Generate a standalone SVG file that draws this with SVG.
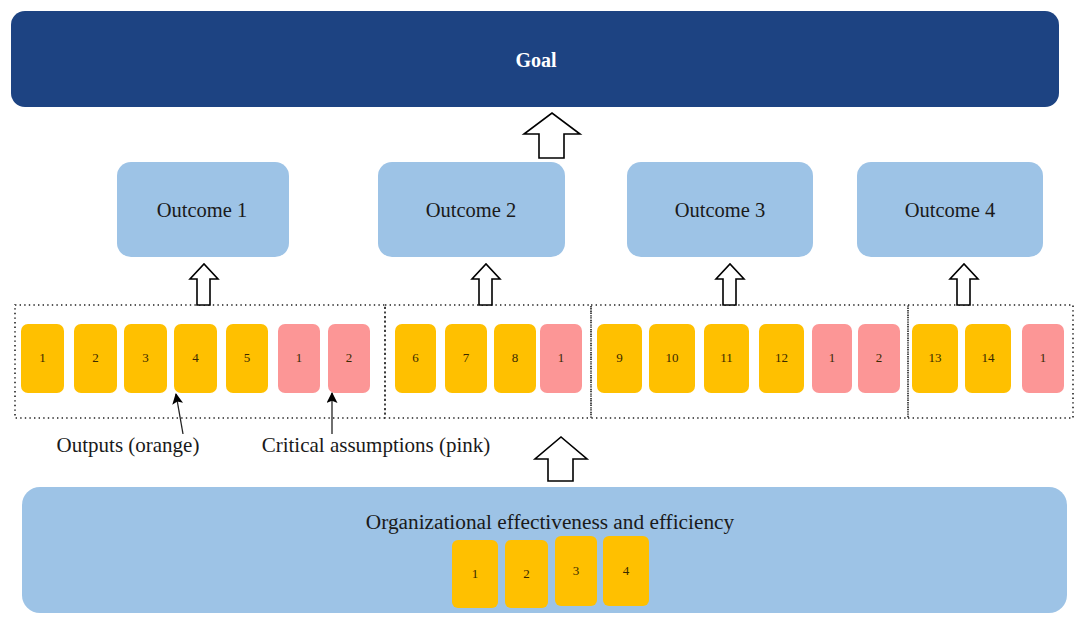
<svg xmlns="http://www.w3.org/2000/svg" width="1081" height="619" viewBox="0 0 1081 619">
<style>
.bg{fill:#ffffff}
.goal{fill:#1d4382}
.oc{fill:#9dc3e6}
.out{fill:#ffc000}
.ca{fill:#fc9696}
.grp{fill:none;stroke:#222;stroke-width:1.6;stroke-dasharray:1.4 3.2}
.blk{fill:#ffffff;stroke:#000;stroke-width:1.6;stroke-linejoin:miter}
.t{font-family:'Liberation Serif',serif;fill:#1a1a1a;text-anchor:middle}
.num{font-family:'Liberation Serif',serif;fill:#3a2a00;text-anchor:middle;font-size:13px}
.ann{stroke:#222;stroke-width:1.3;fill:none}
</style>
<defs>
<marker id="ah" viewBox="0 0 10 10" refX="9" refY="5" markerWidth="12" markerHeight="11" orient="auto" markerUnits="userSpaceOnUse">
<path d="M0,0 L10,5 L0,10 L2,5 Z" fill="#000"/>
</marker>
</defs>
<rect class="bg" x="0" y="0" width="1081" height="619"/>

<g id="goal">
<rect class="goal" x="11" y="11" width="1048" height="96" rx="14"/>
<text x="536" y="67" font-family="'Liberation Serif', serif" font-weight="bold" font-size="20" fill="#ffffff" text-anchor="middle">Goal</text>
</g>

<g id="outcome1"><rect class="oc" x="117" y="162" width="172" height="95" rx="14"/><text class="t" x="202" y="217" font-size="20.5">Outcome 1</text></g>
<g id="outcome2"><rect class="oc" x="378" y="162" width="187" height="95" rx="14"/><text class="t" x="471" y="217" font-size="20.5">Outcome 2</text></g>
<g id="outcome3"><rect class="oc" x="627" y="162" width="186" height="95" rx="14"/><text class="t" x="720" y="217" font-size="20.5">Outcome 3</text></g>
<g id="outcome4"><rect class="oc" x="857" y="162" width="186" height="95" rx="14"/><text class="t" x="950" y="217" font-size="20.5">Outcome 4</text></g>

<g id="group1">
<rect class="grp" x="15" y="305" width="370" height="113"/>
<rect class="out" x="21" y="324" width="43" height="69" rx="7"/><text class="num" x="42.5" y="362">1</text>
<rect class="out" x="74" y="324" width="43" height="69" rx="7"/><text class="num" x="95.5" y="362">2</text>
<rect class="out" x="124" y="324" width="43" height="69" rx="7"/><text class="num" x="145.5" y="362">3</text>
<rect class="out" x="174" y="324" width="43" height="69" rx="7"/><text class="num" x="195.5" y="362">4</text>
<rect class="out" x="226" y="324" width="42" height="69" rx="7"/><text class="num" x="247" y="362">5</text>
<rect class="ca" x="278" y="324" width="42" height="69" rx="7"/><text class="num" x="299" y="362">1</text>
<rect class="ca" x="328" y="324" width="42" height="69" rx="7"/><text class="num" x="349" y="362">2</text>
</g>

<g id="group2">
<rect class="grp" x="385" y="305" width="206" height="113"/>
<rect class="out" x="395" y="324" width="41" height="69" rx="7"/><text class="num" x="415.5" y="362">6</text>
<rect class="out" x="445" y="324" width="42" height="69" rx="7"/><text class="num" x="466" y="362">7</text>
<rect class="out" x="494" y="324" width="42" height="69" rx="7"/><text class="num" x="515" y="362">8</text>
<rect class="ca" x="540" y="324" width="42" height="69" rx="7"/><text class="num" x="561" y="362">1</text>
</g>

<g id="group3">
<rect class="grp" x="591" y="305" width="317" height="113"/>
<rect class="out" x="597" y="324" width="45" height="69" rx="7"/><text class="num" x="619.5" y="362">9</text>
<rect class="out" x="649" y="324" width="46" height="69" rx="7"/><text class="num" x="672" y="362">10</text>
<rect class="out" x="704" y="324" width="45" height="69" rx="7"/><text class="num" x="726.5" y="362">11</text>
<rect class="out" x="759" y="324" width="45" height="69" rx="7"/><text class="num" x="781.5" y="362">12</text>
<rect class="ca" x="812" y="324" width="40" height="69" rx="7"/><text class="num" x="832" y="362">1</text>
<rect class="ca" x="858" y="324" width="42" height="69" rx="7"/><text class="num" x="879" y="362">2</text>
</g>

<g id="group4">
<rect class="grp" x="908" y="305" width="165" height="113"/>
<rect class="out" x="912" y="324" width="46" height="69" rx="7"/><text class="num" x="935" y="362">13</text>
<rect class="out" x="965" y="324" width="46" height="69" rx="7"/><text class="num" x="988" y="362">14</text>
<rect class="ca" x="1022" y="324" width="42" height="69" rx="7"/><text class="num" x="1043" y="362">1</text>
</g>

<g id="labels">
<text class="t" x="128" y="452" font-size="21">Outputs (orange)</text>
<text class="t" x="376" y="452" font-size="21">Critical assumptions (pink)</text>
</g>

<g id="base">
<rect class="oc" x="22" y="487" width="1045" height="126" rx="18"/>
<text class="t" x="550" y="529" font-size="21.3">Organizational effectiveness and efficiency</text>
<rect class="out" x="452" y="540" width="46" height="68" rx="6"/><text class="num" x="475" y="578">1</text>
<rect class="out" x="505" y="540" width="43" height="68" rx="6"/><text class="num" x="526.5" y="578">2</text>
<rect class="out" x="555" y="536" width="42" height="70" rx="6"/><text class="num" x="576" y="575">3</text>
<rect class="out" x="603" y="536" width="46" height="70" rx="6"/><text class="num" x="626" y="575">4</text>
</g>

<g id="connectors">
<path class="blk" d="M539,158 L539,134 L524,134 L552,113 L580,134 L564,134 L564,158 Z"/>
<path class="blk" d="M197,305 L197,279 L190,279 L204,264 L218,279 L210,279 L210,305 Z"/>
<path class="blk" d="M479,305 L479,279 L472,279 L486,264 L500,279 L492,279 L492,305 Z"/>
<path class="blk" d="M723,305 L723,279 L716,279 L730,264 L744,279 L736,279 L736,305 Z"/>
<path class="blk" d="M957,305 L957,279 L950,279 L964,264 L978,279 L970,279 L970,305 Z"/>
<path class="blk" d="M548,481 L548,459 L535,459 L561,437 L587,459 L573,459 L573,481 Z"/>
<line class="ann" x1="183" y1="434" x2="176" y2="394" marker-end="url(#ah)"/>
<line class="ann" x1="332" y1="434" x2="332" y2="393" marker-end="url(#ah)"/>
</g>
</svg>
